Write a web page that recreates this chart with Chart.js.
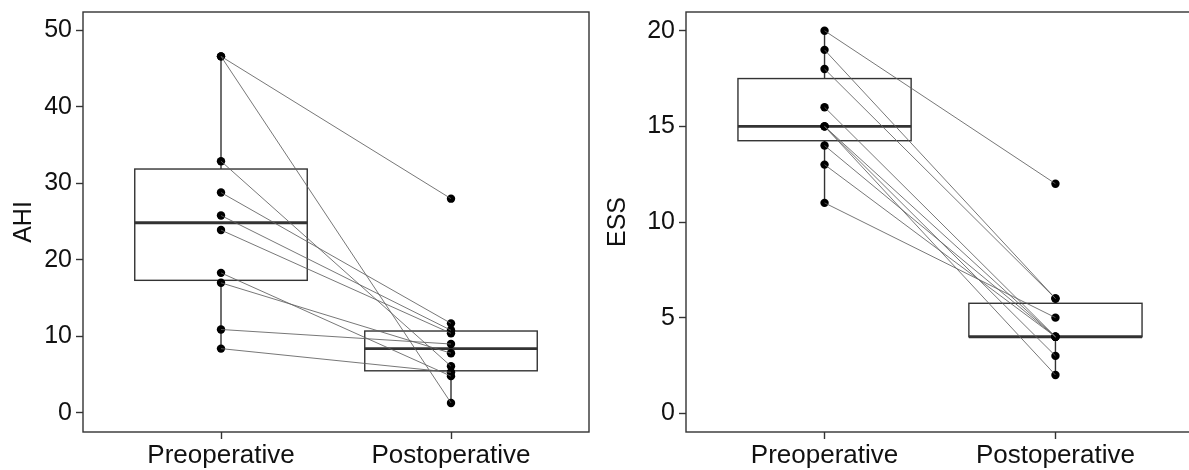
<!DOCTYPE html>
<html>
<head>
<meta charset="utf-8">
<script src="https://cdn.jsdelivr.net/npm/chart.js@4.4.0/dist/chart.umd.min.js"></script>
<style>
html, body { margin: 0; padding: 0; background: #fff; overflow: hidden; width: 1189px; height: 470px; }
#wrapAhi { position: absolute; left: 0; top: 0; width: 594px; height: 470px; }
#wrapEss { position: absolute; left: 594px; top: 0; width: 606px; height: 470px; }
</style>
</head>
<body>
<div id="wrapAhi"><canvas id="ahiChart" width="594" height="470"></canvas></div>
<div id="wrapEss"><canvas id="essChart" width="606" height="470"></canvas></div>
<script>
// data (one entry per patient, same order pre / post)
var categories = ['Preoperative', 'Postoperative'];
var ahiPre  = [46.6, 46.6, 32.9, 28.8, 25.8, 23.9, 18.3, 17.0, 10.9, 8.4];
var ahiPost = [28.0, 1.3, 6.1, 11.7, 10.8, 10.4, 4.8, 7.8, 9.0, 5.3];
var essPre  = [20, 19, 18, 16, 15, 15, 15, 14, 13, 11];
var essPost = [12, 6, 6, 4, 4, 3, 2, 4, 4, 5];
var ahiTicks = [0, 10, 20, 30, 40, 50];
var essTicks = [0, 5, 10, 15, 20];

var fontFamily = '"Liberation Sans", Arial, sans-serif';

function quantile(sorted, p) {
    var h = (sorted.length - 1) * p;
    var lo = Math.floor(h);
    var hi = Math.min(lo + 1, sorted.length - 1);
    return sorted[lo] + (h - lo) * (sorted[hi] - sorted[lo]);
}

function boxStats(values) {
    var s = values.slice().sort(function(a, b) { return a - b; });
    var q1 = quantile(s, 0.25), med = quantile(s, 0.5), q3 = quantile(s, 0.75);
    var iqr = q3 - q1;
    var inside = s.filter(function(v) { return v >= q1 - 1.5 * iqr && v <= q3 + 1.5 * iqr; });
    return { q1: q1, med: med, q3: q3, lo: inside[0], hi: inside[inside.length - 1] };
}

// boxplot drawn under the paired lines, panel border drawn on top
var boxPlugin = {
    id: 'pairedBox',
    beforeDatasetsDraw: function(chart, args, opts) {
        var ctx = chart.ctx, x = chart.scales.x, y = chart.scales.y;
        ctx.save();
        opts.groups.forEach(function(vals, i) {
            var st = boxStats(vals);
            var cx = x.getPixelForValue(i + 1);
            var half = x.getPixelForValue(i + 1 + 0.375) - cx;
            ctx.strokeStyle = '#333';
            ctx.lineWidth = 1.4;
            ctx.beginPath();
            ctx.moveTo(cx, y.getPixelForValue(st.q3));
            ctx.lineTo(cx, y.getPixelForValue(st.hi));
            ctx.moveTo(cx, y.getPixelForValue(st.q1));
            ctx.lineTo(cx, y.getPixelForValue(st.lo));
            ctx.stroke();
            var top = y.getPixelForValue(st.q3), bot = y.getPixelForValue(st.q1);
            ctx.fillStyle = '#fff';
            ctx.fillRect(cx - half, top, half * 2, bot - top);
            ctx.strokeRect(cx - half, top, half * 2, bot - top);
            ctx.lineWidth = 2.8;
            ctx.beginPath();
            ctx.moveTo(cx - half, y.getPixelForValue(st.med));
            ctx.lineTo(cx + half, y.getPixelForValue(st.med));
            ctx.stroke();
        });
        ctx.restore();
    },
    afterDraw: function(chart) {
        var ctx = chart.ctx, a = chart.chartArea;
        ctx.save();
        ctx.strokeStyle = '#333';
        ctx.lineWidth = 1.4;
        ctx.strokeRect(a.left, a.top, a.right - a.left, a.bottom - a.top);
        ctx.restore();
    }
};

function buildDatasets(pre, post) {
    var sets = pre.map(function(v, i) {
        return {
            type: 'line',
            data: [{ x: 1, y: v }, { x: 2, y: post[i] }],
            borderColor: 'rgba(95,95,95,0.85)',
            borderWidth: 1,
            pointRadius: 0,
            fill: false
        };
    });
    sets.push({
        type: 'scatter',
        data: pre.map(function(v) { return { x: 1, y: v }; }).concat(post.map(function(v) { return { x: 2, y: v }; })),
        backgroundColor: '#000',
        borderColor: '#000',
        pointRadius: 4.2,
        borderWidth: 0
    });
    return sets;
}

function makeChart(canvasId, pre, post, title, yMin, yMax, ticks, axisWidth, padRight) {
    var ctx = document.getElementById(canvasId).getContext('2d');
    return new Chart(ctx, {
        type: 'scatter',
        data: { datasets: buildDatasets(pre, post) },
        plugins: [boxPlugin],
        options: {
            responsive: false,
            animation: false,
            devicePixelRatio: 1,
            layout: { padding: { top: 12, right: padRight, left: 0, bottom: 0 } },
            plugins: {
                legend: { display: false },
                tooltip: { enabled: false },
                pairedBox: { groups: [pre, post] }
            },
            scales: {
                x: {
                    type: 'linear',
                    min: 0.4,
                    max: 2.6,
                    afterBuildTicks: function(s) { s.ticks = [{ value: 1 }, { value: 2 }]; },
                    afterFit: function(s) { s.height = 38; s.paddingLeft = 0; s.paddingRight = 0; },
                    ticks: {
                        callback: function(v, i) { return categories[i]; },
                        font: { family: fontFamily, size: 26 },
                        color: '#111',
                        padding: 1,
                        maxRotation: 0
                    },
                    grid: { drawOnChartArea: false, tickLength: 7, color: '#333', tickWidth: 1.4 },
                    border: { display: false }
                },
                y: {
                    type: 'linear',
                    min: yMin,
                    max: yMax,
                    afterBuildTicks: function(s) { s.ticks = ticks.map(function(v) { return { value: v }; }); },
                    afterFit: function(s) { s.width = axisWidth; s.paddingTop = 0; s.paddingBottom = 0; },
                    ticks: {
                        font: { family: fontFamily, size: 25 },
                        color: '#111',
                        padding: 4
                    },
                    grid: { drawOnChartArea: false, tickLength: 7, color: '#333', tickWidth: 1.4 },
                    border: { display: false },
                    title: {
                        display: true,
                        text: title,
                        font: { family: fontFamily, size: 25 },
                        color: '#111',
                        padding: { top: 9, bottom: 0 }
                    }
                }
            }
        }
    });
}

makeChart('ahiChart', ahiPre, ahiPost, 'AHI', -2.5, 52.4, ahiTicks, 83, 5);
makeChart('essChart', essPre, essPost, 'ESS', -0.98, 20.98, essTicks, 92, 6);
</script>
</body>
</html>
